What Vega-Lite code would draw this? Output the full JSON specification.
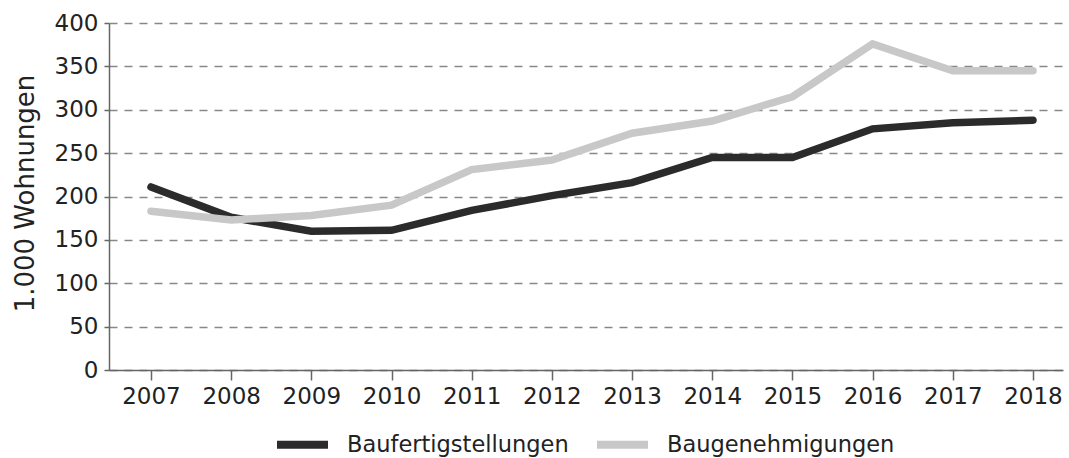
{
  "$schema": "https://vega.github.io/schema/vega-lite/v6.json",
  "autosize": {"type": "none"},
  "width": 954,
  "height": 347,
  "padding": {"left": 109, "top": 23, "right": 6, "bottom": 88},
  "background": "#ffffff",
  "config": {
    "font": "DejaVu Sans",
    "view": {"stroke": null}
  },
  "data": {
    "values": [
      {"Jahr": "2007", "Serie": "Baufertigstellungen", "Wert": 211},
      {"Jahr": "2008", "Serie": "Baufertigstellungen", "Wert": 176},
      {"Jahr": "2009", "Serie": "Baufertigstellungen", "Wert": 160},
      {"Jahr": "2010", "Serie": "Baufertigstellungen", "Wert": 161},
      {"Jahr": "2011", "Serie": "Baufertigstellungen", "Wert": 184},
      {"Jahr": "2012", "Serie": "Baufertigstellungen", "Wert": 201},
      {"Jahr": "2013", "Serie": "Baufertigstellungen", "Wert": 216},
      {"Jahr": "2014", "Serie": "Baufertigstellungen", "Wert": 245},
      {"Jahr": "2015", "Serie": "Baufertigstellungen", "Wert": 245},
      {"Jahr": "2016", "Serie": "Baufertigstellungen", "Wert": 278},
      {"Jahr": "2017", "Serie": "Baufertigstellungen", "Wert": 285},
      {"Jahr": "2018", "Serie": "Baufertigstellungen", "Wert": 288},
      {"Jahr": "2007", "Serie": "Baugenehmigungen", "Wert": 183},
      {"Jahr": "2008", "Serie": "Baugenehmigungen", "Wert": 173},
      {"Jahr": "2009", "Serie": "Baugenehmigungen", "Wert": 178},
      {"Jahr": "2010", "Serie": "Baugenehmigungen", "Wert": 190},
      {"Jahr": "2011", "Serie": "Baugenehmigungen", "Wert": 231},
      {"Jahr": "2012", "Serie": "Baugenehmigungen", "Wert": 242},
      {"Jahr": "2013", "Serie": "Baugenehmigungen", "Wert": 273},
      {"Jahr": "2014", "Serie": "Baugenehmigungen", "Wert": 287},
      {"Jahr": "2015", "Serie": "Baugenehmigungen", "Wert": 315},
      {"Jahr": "2016", "Serie": "Baugenehmigungen", "Wert": 376},
      {"Jahr": "2017", "Serie": "Baugenehmigungen", "Wert": 345},
      {"Jahr": "2018", "Serie": "Baugenehmigungen", "Wert": 345}
    ]
  },
  "mark": {"type": "line", "strokeWidth": 7.5, "strokeCap": "round", "strokeJoin": "miter"},
  "encoding": {
    "x": {
      "field": "Jahr",
      "type": "ordinal",
      "scale": {"type": "point", "padding": 0.449, "align": 0.583},
      "axis": {
        "title": null,
        "labelAngle": 0,
        "labelFontSize": 23,
        "labelColor": "#222222",
        "labelPadding": 5,
        "tickSize": 10,
        "tickColor": "#666666",
        "tickWidth": 1.5,
        "domainColor": "#666666",
        "domainWidth": 1.5,
        "grid": false
      }
    },
    "y": {
      "field": "Wert",
      "type": "quantitative",
      "scale": {"domain": [0, 400], "nice": false},
      "axis": {
        "title": "1.000 Wohnungen",
        "titleFontSize": 26,
        "titleFontWeight": "normal",
        "titleColor": "#222222",
        "titlePadding": 16,
        "titleY": 170,
        "values": [0, 50, 100, 150, 200, 250, 300, 350, 400],
        "labelFontSize": 23,
        "labelColor": "#222222",
        "labelPadding": 6,
        "tickSize": 5,
        "tickColor": "#666666",
        "tickWidth": 1.5,
        "domainColor": "#666666",
        "domainWidth": 1.5,
        "grid": true,
        "gridColor": "#888888",
        "gridWidth": 1.5,
        "gridDash": [8, 7]
      }
    },
    "color": {
      "field": "Serie",
      "type": "nominal",
      "scale": {
        "domain": ["Baufertigstellungen", "Baugenehmigungen"],
        "range": ["#2b2b2b", "#c8c8c8"]
      },
      "legend": {
        "title": null,
        "orient": "none",
        "legendX": 164,
        "legendY": 392,
        "direction": "horizontal",
        "labelFontSize": 22.5,
        "labelColor": "#222222",
        "labelLimit": 0,
        "symbolType": "stroke",
        "symbolSize": 2600,
        "symbolStrokeWidth": 8,
        "labelOffset": 15,
        "columnPadding": 12
      }
    }
  }
}
